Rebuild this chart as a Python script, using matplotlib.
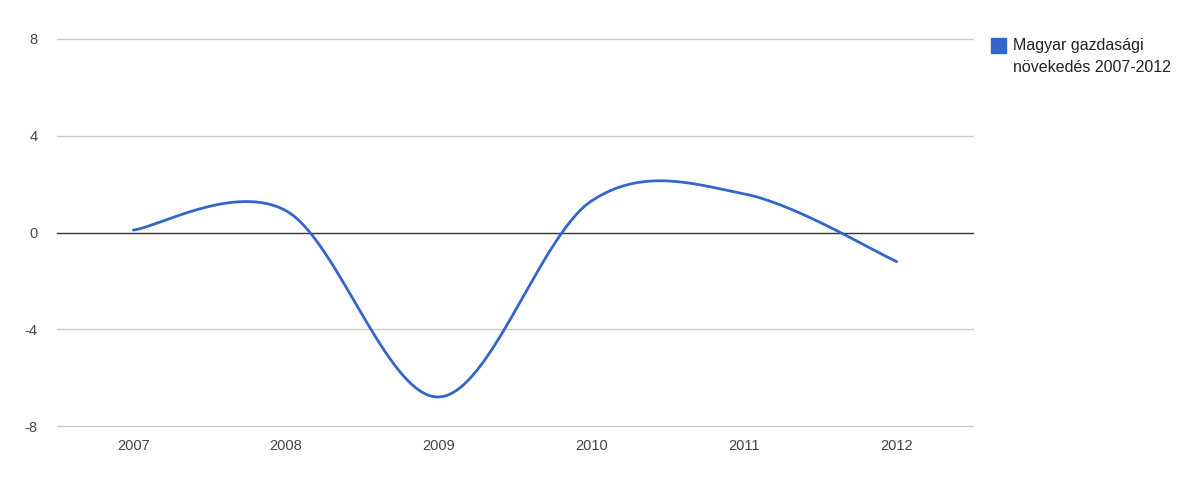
import numpy as np
import matplotlib
matplotlib.use("Agg")
from matplotlib import pyplot as plt
from matplotlib.patches import Rectangle

# data
years = [2007, 2008, 2009, 2010, 2011, 2012]
growth = [0.1, 0.9, -6.8, 1.3, 1.6, -1.2]
y_ticks = [-8, -4, 0, 4, 8]
series_name = "Magyar gazdasági\nnövekedés 2007-2012"

plt.rcParams['font.family'] = ['Liberation Sans', 'DejaVu Sans']
plt.rcParams['axes.unicode_minus'] = False

W, H = 1187, 487
fig = plt.figure(figsize=(W / 100, H / 100), dpi=100)
ax = fig.add_axes([57 / W, (H - 426) / H, (973 - 57) / W, (426 - 39) / H])

# smooth curve (catmull-rom style bezier, like google charts "function" curve)
x = np.array(years, dtype=float)
y = np.array(growth, dtype=float)
n = len(x)
k = 1 / 6
xs, ys = [], []
t = np.linspace(0, 1, 60)
for i in range(n - 1):
    i0 = max(i - 1, 0)
    i3 = min(i + 2, n - 1)
    p0 = np.array([x[i], y[i]])
    p3 = np.array([x[i + 1], y[i + 1]])
    p1 = p0 + k * (np.array([x[i + 1], y[i + 1]]) - np.array([x[i0], y[i0]]))
    p2 = p3 - k * (np.array([x[i3], y[i3]]) - np.array([x[i], y[i]]))
    b = ((1 - t) ** 3)[:, None] * p0 + (3 * (1 - t) ** 2 * t)[:, None] * p1 \
        + (3 * (1 - t) * t ** 2)[:, None] * p2 + (t ** 3)[:, None] * p3
    xs.extend(b[:, 0])
    ys.extend(b[:, 1])

for v in y_ticks:
    if v == 0:
        ax.axhline(v, color="#333333", lw=1, zorder=2, clip_on=False)
    else:
        ax.axhline(v, color="#cccccc", lw=1, zorder=1, clip_on=False)

ax.plot(xs, ys, color="#3366cc", lw=2, zorder=3, solid_capstyle="round")

ax.set_xlim(years[0] - 0.5, years[-1] + 0.5)
ax.set_ylim(-8, 8)
ax.set_xticks(years)
ax.set_xticklabels([str(v) for v in years])
ax.set_yticks(y_ticks)
ax.tick_params(length=0, labelsize=10.5, colors="#444444")
ax.tick_params(axis="y", pad=14)
ax.tick_params(axis="x", pad=9)
for s in ax.spines.values():
    s.set_visible(False)

# legend
fig.patches.append(Rectangle((991 / W, (H - 53) / H), 15 / W, 15 / H,
                             transform=fig.transFigure, color="#3366cc"))
fig.text(1013 / W, (H - 38) / H, series_name, ha="left", va="top",
         fontsize=11.5, color="#222222", linespacing=1.55)

plt.savefig("out.png", dpi=100)
